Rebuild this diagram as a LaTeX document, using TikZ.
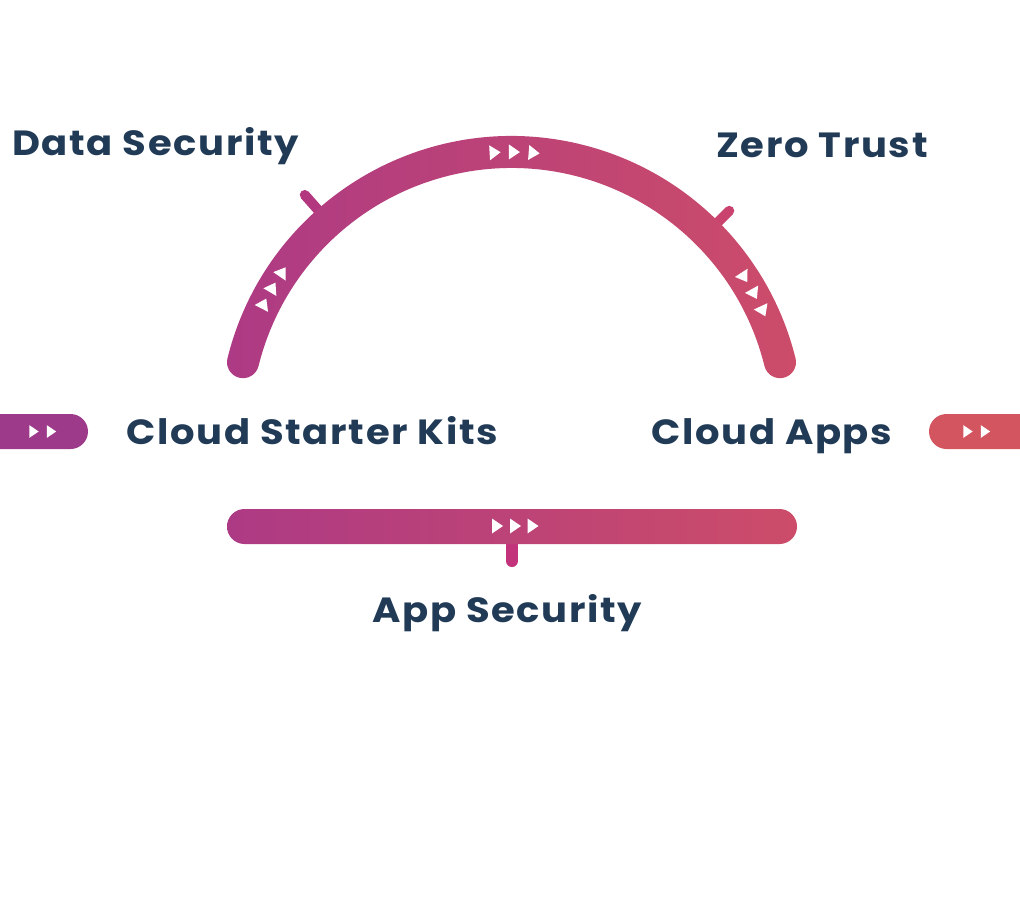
\documentclass[tikz,border=0pt]{standalone}
\usepackage{fontspec}
\setmainfont{Poppins}[FakeStretch=1.1, LetterSpace=4.8]
\usetikzlibrary{calc}
\definecolor{navy}{HTML}{213B57}
\definecolor{cA}{HTML}{AD3A84}
\definecolor{cM}{HTML}{C62F7D}
\definecolor{cB}{HTML}{CC4C69}
\definecolor{pillL}{HTML}{9D3B8A}
\definecolor{pillR}{HTML}{D3555F}
\definecolor{tickL}{HTML}{B3377F}
\definecolor{tickR}{HTML}{CA436F}
\definecolor{tickM}{HTML}{C3337C}
\begin{document}
\begin{tikzpicture}[x=1pt,y=1pt,
  lbl/.style={font=\fontsize{35}{40}\selectfont\bfseries, text=navy, inner sep=0pt, anchor=base west},
  tick/.style={line width=10pt, line cap=round},
  tri/.pic={\fill[white] (-5.5,7.5) -- (5.5,0) -- (-5.5,-7.5) -- cycle;},
  grad/.style={left color=cA, middle color=cM, right color=cB}]
\clip (0,0) rectangle (1020,-897);
\fill[white] (0,0) rectangle (1020,-897);
\coordinate (C) at (511.5,-428.6);
% ticks
\draw[tick, tickL] (C) ++(131.5:280pt) -- ++(131.5:32pt) coordinate (tl);
\draw[tick, tickR] (C) ++(45:280pt) -- ++(45:28pt) coordinate (tr);
% arc
\shade[grad] (C) ++(166.1:292.6pt)
  arc[start angle=166.1, end angle=13.9, radius=292.6pt]
  arc[start angle=13.9, end angle=-166.1, radius=16pt]
  arc[start angle=13.9, end angle=166.1, radius=260.6pt]
  arc[start angle=-13.9, end angle=-193.9, radius=16pt] -- cycle;
% arc triangles
\foreach \a in {93.4,89.4,85.3} \pic[rotate=\a-90] at ($(C)+(\a:276.6pt)$) {tri};
\foreach \a in {145.6,149.4,153.2} \pic[rotate=\a-90] at ($(C)+(\a:277.5pt)$) {tri};
\foreach \a in {33,29,25} \pic[rotate=\a-90] at ($(C)+(\a:277.5pt)$) {tri};
% bottom bar
\coordinate (bt) at (512,-530);
\draw[line width=12pt, line cap=round, tickM] (bt) -- ++(0,-31) coordinate (bb);
\shade[grad, rounded corners=17.5pt] (227,-509) rectangle (797,-544);
\foreach \x in {497.5,515.5,533} \pic at (\x,-526) {tri};
% pills
\fill[pillL, rounded corners=17.5pt] (-40,-414) rectangle (88,-449);
\foreach \x in {34,51.5} \pic[scale=0.85] at (\x,-431.5) {tri};
\fill[pillR, rounded corners=17.5pt] (929,-414) rectangle (1060,-449);
\foreach \x in {968,985.5} \pic[scale=0.85] at (\x,-431.5) {tri};
% labels
\node[lbl] (ds) at (12,-155) {Data Security};
\node[lbl] (zt) at (716,-157) {Zero Trust};
\node[lbl] (csk) at (126,-444) {Cloud Starter Kits};
\node[lbl] (ca) at (651,-444) {Cloud Apps};
\node[lbl] (as) at (372,-622) {App Security};
\end{tikzpicture}
\end{document}
